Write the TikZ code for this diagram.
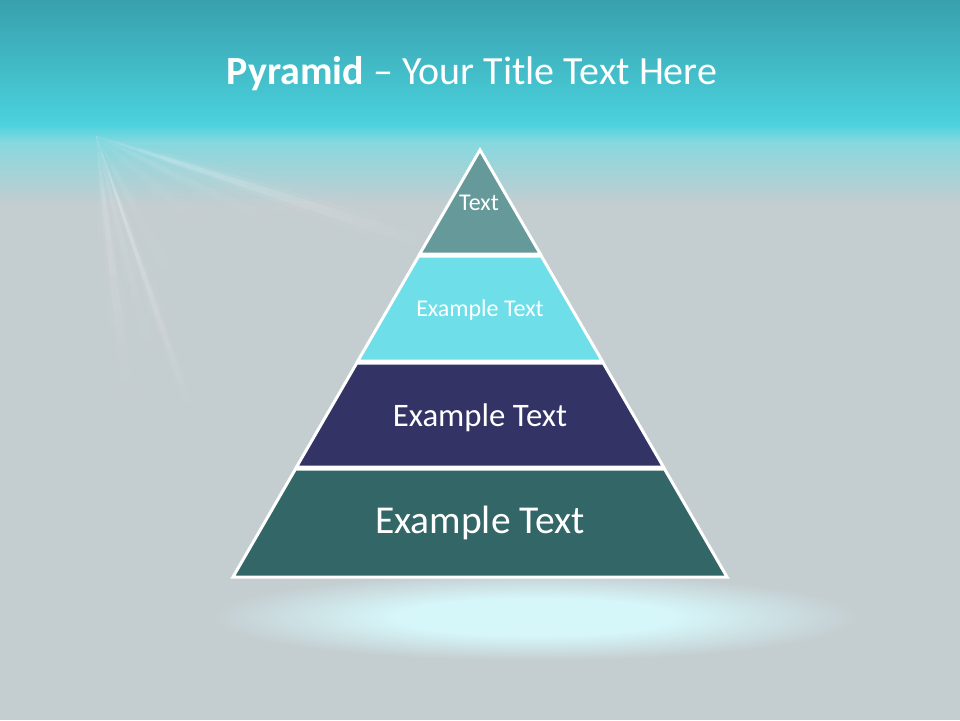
\documentclass[tikz,border=0pt]{standalone}
\usepackage{fontspec}
\setmainfont{Carlito}
\usetikzlibrary{calc,fadings}
\definecolor{bandtop}{HTML}{38A0AD}
\definecolor{bandcyan}{HTML}{4AD2DD}
\definecolor{bandmid}{HTML}{86D8DF}
\definecolor{bggrey}{HTML}{C4CDD0}
\definecolor{layerA}{HTML}{669999}
\definecolor{layerB}{HTML}{6EDFE9}
\definecolor{layerC}{HTML}{333366}
\definecolor{layerD}{HTML}{336666}
\definecolor{glowc}{HTML}{D6F7FA}
\pgfdeclareradialshading{glowshade}{\pgfpoint{0bp}{0bp}}{color(0bp)=(glowc); color(10bp)=(glowc); color(24bp)=(bggrey); color(50bp)=(bggrey)}
\tikzset{
  layer/.style={draw=white, line width=3pt, line join=miter},
  lbl/.style={text=white, anchor=base, inner sep=0pt},
}
\newcommand\raypart[4]{%
  \foreach \k in {0,...,15}{%
    \pgfmathsetmacro\ra{#2*\k/16}%
    \pgfmathsetmacro\rb{#2*(\k+1)/16}%
    \pgfmathsetmacro\wa{#3*\k/16+0.5}%
    \pgfmathsetmacro\wb{#3*(\k+1)/16+0.5}%
    \pgfmathsetmacro\op{#4*(1-\k/16)*(0.3+0.7*min(1,\k/3))}%
    \fill[white,opacity=\op]
      ($(O)+(#1:\ra)+(#1+90:\wa)$) -- ($(O)+(#1:\rb)+(#1+90:\wb)$) --
      ($(O)+(#1:\rb)+(#1-90:\wb)$) -- ($(O)+(#1:\ra)+(#1-90:\wa)$) -- cycle;
  }%
}
\newcommand\lightray[4]{%
  \raypart{#1}{#2}{#3}{#4}%
  \raypart{#1}{#2}{2.2*#3}{0.45*#4}%
  \raypart{#1}{#2}{4.5*#3}{0.22*#4}%
}
\begin{document}
\begin{tikzpicture}[x=1pt,y=-1pt]
\useasboundingbox (0,0) rectangle (960,720);
% background
\fill[bggrey] (0,0) rectangle (960,720);
\shade[top color=bandtop, bottom color=bandcyan] (0,0) rectangle (960,124);
\shade[top color=bandcyan, bottom color=bandmid] (0,124) rectangle (960,142);
\shade[top color=bandmid, bottom color=bggrey] (0,142) rectangle (960,205);
% glow ellipse
\begin{scope}[shift={(535,617)}, yscale=0.135]
  \shade[shading=glowshade] (0,0) circle [radius=340];
\end{scope}
% light rays
\coordinate (O) at (96,136);
\lightray{71}{300}{3}{0.26}
\lightray{83}{280}{6}{0.15}
\lightray{76}{240}{5}{0.12}
\lightray{62}{200}{7}{0.07}
\lightray{18}{360}{6}{0.22}
\lightray{26}{220}{6}{0.10}
\lightray{40}{170}{8}{0.06}
% pyramid
\fill[layerD, layer] (233,577) -- (727,577) -- (664.5,469) -- (295.5,469) -- cycle;
\fill[layerC, layer] (296.5,467) -- (663.5,467) -- (603.2,363) -- (356.8,363) -- cycle;
\fill[layerB, layer] (357.8,361) -- (602.2,361) -- (541.3,256) -- (418.7,256) -- cycle;
\fill[layerA, layer] (419.7,254) -- (540.3,254) -- (480,150) -- cycle;
% labels
\node[lbl, font=\fontsize{24}{28}\selectfont] (tA) at (479,210) {Text};
\node[lbl, font=\fontsize{24}{28}\selectfont] (tB) at (480,316) {Example Text};
\node[lbl, font=\fontsize{32.8}{38}\selectfont] (tC) at (480,426) {Example Text};
\node[lbl, font=\fontsize{39.5}{46}\selectfont] (tD) at (480,533) {Example Text};
% title
\node[lbl, font=\fontsize{40}{46}\selectfont] (title) at (472,84) {\textbf{Pyramid} – Your Title Text Here};
\end{tikzpicture}
\end{document}
